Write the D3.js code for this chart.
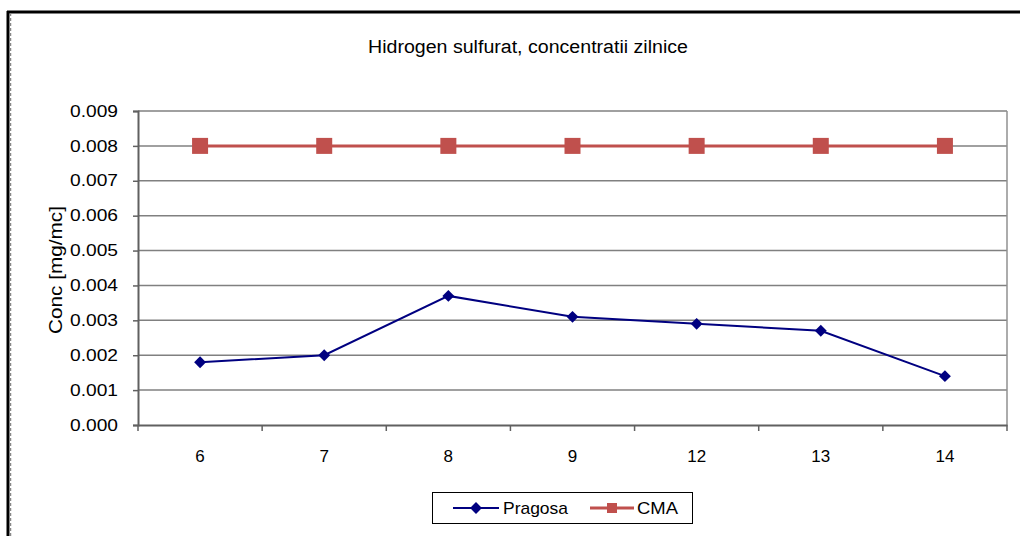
<!DOCTYPE html>
<html lang="ro">
<head>
<meta charset="UTF-8">
<script src="https://cdn.jsdelivr.net/npm/d3@7"></script>
<title>Hidrogen sulfurat</title>
<style>
    body { margin: 0; background: white; }
    text { font-family: "Liberation Sans", Arial, sans-serif; fill: #000; }
</style>
</head>
<body>
<script>
    // ---- data ----
    const days = ["6", "7", "8", "9", "12", "13", "14"];
    const pragosa = [0.0018, 0.0020, 0.0037, 0.0031, 0.0029, 0.0027, 0.0014];
    const cma = [0.008, 0.008, 0.008, 0.008, 0.008, 0.008, 0.008];
    const yTicks = [0, 0.001, 0.002, 0.003, 0.004, 0.005, 0.006, 0.007, 0.008, 0.009];

    const W = 1020, H = 536;
    const plot = { left: 138, right: 1007, top: 111, bottom: 425 };
    const font = "Liberation Sans, Arial, sans-serif";

    const svg = d3.select("body").append("svg")
        .attr("width", W)
        .attr("height", H);

    // outer frame (top and left only visible)
    svg.append("line").attr("x1", 7).attr("x2", W).attr("y1", 12).attr("y2", 12)
        .attr("stroke", "#000").attr("stroke-width", 3);
    svg.append("line").attr("x1", 8).attr("x2", 8).attr("y1", 11).attr("y2", H)
        .attr("stroke", "#000").attr("stroke-width", 3);
    svg.append("line").attr("x1", 10.5).attr("x2", 10.5).attr("y1", 13).attr("y2", H)
        .attr("stroke", "#888").attr("stroke-width", 1.5).attr("stroke-dasharray", "3,2");

    // scales
    const x = d3.scaleBand().domain(days).range([plot.left, plot.right]);
    const y = d3.scaleLinear().domain([0, 0.009]).range([plot.bottom, plot.top]);

    // gridlines
    svg.append("g")
        .selectAll("line")
        .data(yTicks.filter(d => d > 0))
        .join("line")
        .attr("x1", plot.left).attr("x2", plot.right)
        .attr("y1", d => y(d)).attr("y2", d => y(d))
        .attr("stroke", "#808080").attr("stroke-width", 1.5);

    // right border
    svg.append("line")
        .attr("x1", plot.right).attr("x2", plot.right)
        .attr("y1", plot.top).attr("y2", plot.bottom)
        .attr("stroke", "#909090").attr("stroke-width", 1.5);

    // y axis
    const yAxis = svg.append("g")
        .attr("transform", `translate(${plot.left},0)`)
        .call(d3.axisLeft(y).tickValues(yTicks).tickFormat(d3.format(".3f")).tickSize(5).tickPadding(15));
    yAxis.select(".domain").attr("stroke", "#606060").attr("stroke-width", 2);
    yAxis.selectAll(".tick line").attr("stroke", "#606060").attr("stroke-width", 1.5);
    yAxis.selectAll(".tick text")
        .attr("font-size", 16).attr("font-family", font).attr("fill", "#000")
        .attr("textLength", 48).attr("lengthAdjust", "spacingAndGlyphs");

    // x axis
    const xAxis = svg.append("g")
        .attr("transform", `translate(0,${plot.bottom})`)
        .call(d3.axisBottom(x).tickSize(0).tickPadding(25));
    xAxis.select(".domain").attr("stroke", "#606060").attr("stroke-width", 2);
    xAxis.selectAll(".tick text").attr("font-size", 17).attr("font-family", font).attr("fill", "#000");
    // ticks on band edges
    const edges = days.map(d => x(d)).concat([plot.right]);
    svg.append("g")
        .selectAll("line")
        .data(edges)
        .join("line")
        .attr("x1", d => d).attr("x2", d => d)
        .attr("y1", plot.bottom).attr("y2", plot.bottom + 6)
        .attr("stroke", "#606060").attr("stroke-width", 1.5);

    const cx = d => x(d) + x.bandwidth() / 2;

    // CMA series
    const cmaColor = "#c0504d";
    svg.append("path")
        .datum(cma)
        .attr("fill", "none")
        .attr("stroke", cmaColor)
        .attr("stroke-width", 3)
        .attr("d", d3.line().x((d, i) => cx(days[i])).y(d => y(d)));
    svg.append("g")
        .selectAll("rect")
        .data(cma)
        .join("rect")
        .attr("x", (d, i) => cx(days[i]) - 8)
        .attr("y", d => y(d) - 8)
        .attr("width", 16).attr("height", 16)
        .attr("fill", cmaColor);

    // Pragosa series
    const prColor = "#000080";
    svg.append("path")
        .datum(pragosa)
        .attr("fill", "none")
        .attr("stroke", prColor)
        .attr("stroke-width", 2)
        .attr("d", d3.line().x((d, i) => cx(days[i])).y(d => y(d)));
    const diamond = d3.symbol().type(d3.symbolDiamond2).size(90);
    svg.append("g")
        .selectAll("path")
        .data(pragosa)
        .join("path")
        .attr("transform", (d, i) => `translate(${cx(days[i])},${y(d)})`)
        .attr("d", diamond)
        .attr("fill", prColor);

    // title
    svg.append("text")
        .attr("x", 528).attr("y", 53)
        .attr("text-anchor", "middle")
        .attr("font-size", 18)
        .attr("textLength", 320).attr("lengthAdjust", "spacingAndGlyphs")
        .text("Hidrogen sulfurat, concentratii zilnice");

    // y axis title
    svg.append("text")
        .attr("transform", `translate(62,${(plot.top + plot.bottom) / 2 + 2}) rotate(-90)`)
        .attr("text-anchor", "middle")
        .attr("font-size", 18)
        .attr("textLength", 128).attr("lengthAdjust", "spacingAndGlyphs")
        .text("Conc [mg/mc]");

    // legend
    const lg = svg.append("g");
    lg.append("rect")
        .attr("x", 432.5).attr("y", 492.5).attr("width", 260).attr("height", 31)
        .attr("fill", "white").attr("stroke", "#000").attr("stroke-width", 1);
    const ly = 508;
    lg.append("line").attr("x1", 453).attr("x2", 499).attr("y1", ly).attr("y2", ly)
        .attr("stroke", prColor).attr("stroke-width", 2);
    lg.append("path").attr("transform", `translate(476,${ly})`).attr("d", diamond).attr("fill", prColor);
    lg.append("text").attr("x", 503).attr("y", ly + 6).attr("font-size", 17)
        .attr("textLength", 65).attr("lengthAdjust", "spacingAndGlyphs").text("Pragosa");
    lg.append("line").attr("x1", 590).attr("x2", 634).attr("y1", ly).attr("y2", ly)
        .attr("stroke", cmaColor).attr("stroke-width", 3);
    lg.append("rect").attr("x", 607).attr("y", ly - 5).attr("width", 10).attr("height", 10).attr("fill", cmaColor);
    lg.append("text").attr("x", 637).attr("y", ly + 6).attr("font-size", 17)
        .attr("textLength", 41).attr("lengthAdjust", "spacingAndGlyphs").text("CMA");
</script>
</body>
</html>
